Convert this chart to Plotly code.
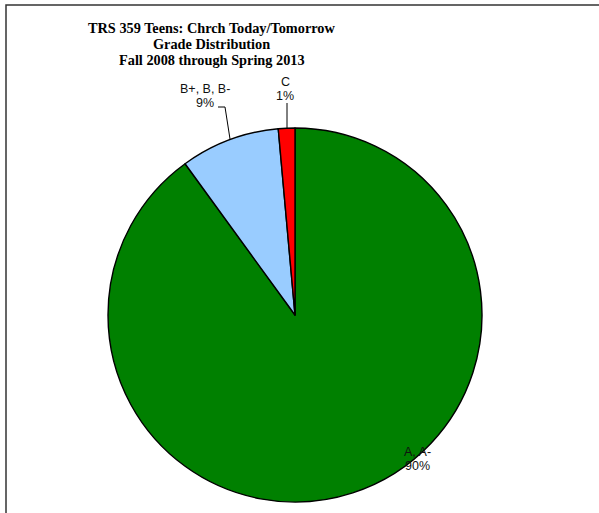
import plotly.graph_objects as go

W, H = 599, 513

categories = ["A, A-", "B+, B, B-", "C"]
counts = [63, 6, 1]
pct_labels = ["90%", "9%", "1%"]
colors = ["#008000", "#99CCFF", "#FF0000"]

title_lines = ["TRS 359 Teens: Chrch Today/Tomorrow", "Grade Distribution", "Fall 2008 through Spring 2013"]

def px(x, y):
    return x / W, 1 - y / H

cx, cy, r = 295, 315, 187
x0, y1 = px(cx - r, cy - r)
x1, y0 = px(cx + r, cy + r)

fig = go.Figure(go.Pie(
    labels=categories, values=counts, sort=False, direction="clockwise",
    rotation=0, textinfo="none", hoverinfo="label+percent",
    marker=dict(colors=colors, line=dict(color="#000000", width=1.4)),
    domain=dict(x=[x0, x1], y=[y0, y1]), showlegend=False,
))

# label line centres (pixels): (x, y_name, y_pct)
label_pos = [(417, 452, 466), (205, 89, 103), (285, 82, 96)]
lab_font = dict(family="Liberation Sans, Arial", size=12.5, color="#111111")
anns = []
for cat, p, (lx, ly1, ly2) in zip(categories, pct_labels, label_pos):
    for txt, ly in ((cat, ly1), (p, ly2)):
        ax, ay = px(lx, ly)
        anns.append(dict(x=ax, y=ay, xref="paper", yref="paper", showarrow=False,
                         text=txt, xanchor="center", yanchor="middle", font=lab_font))

for t, ly in zip(title_lines, (28, 44, 60)):
    tx, ty = px(212, ly)
    anns.append(dict(x=tx, y=ty, xref="paper", yref="paper", showarrow=False,
                     text=f"<b>{t}</b>", xanchor="center", yanchor="middle",
                     font=dict(family="Liberation Serif, Times New Roman", size=14.3, color="#000000")))

shapes = []
fx0, fy0 = px(6, 5)
fx1, fy1 = px(640, 560)
shapes.append(dict(type="rect", xref="paper", yref="paper", x0=fx0, y0=fy1, x1=fx1, y1=fy0,
                   line=dict(color="#333333", width=1.5)))

def seg(a, b):
    (ax, ay), (bx, by) = px(*a), px(*b)
    return dict(type="line", xref="paper", yref="paper", x0=ax, y0=ay, x1=bx, y1=by,
                line=dict(color="#000000", width=1))
shapes.append(seg((218, 107), (225, 107)))
shapes.append(seg((225, 107), (230, 139)))
shapes.append(seg((287, 103), (287, 128)))

fig.update_layout(width=W, height=H, margin=dict(l=0, r=0, t=0, b=0),
                  paper_bgcolor="white", plot_bgcolor="white",
                  annotations=anns, shapes=shapes)
fig.write_html("out.html", config=dict(displayModeBar=False),
               post_script="document.body.style.margin='0px';document.body.style.overflow='hidden';")
